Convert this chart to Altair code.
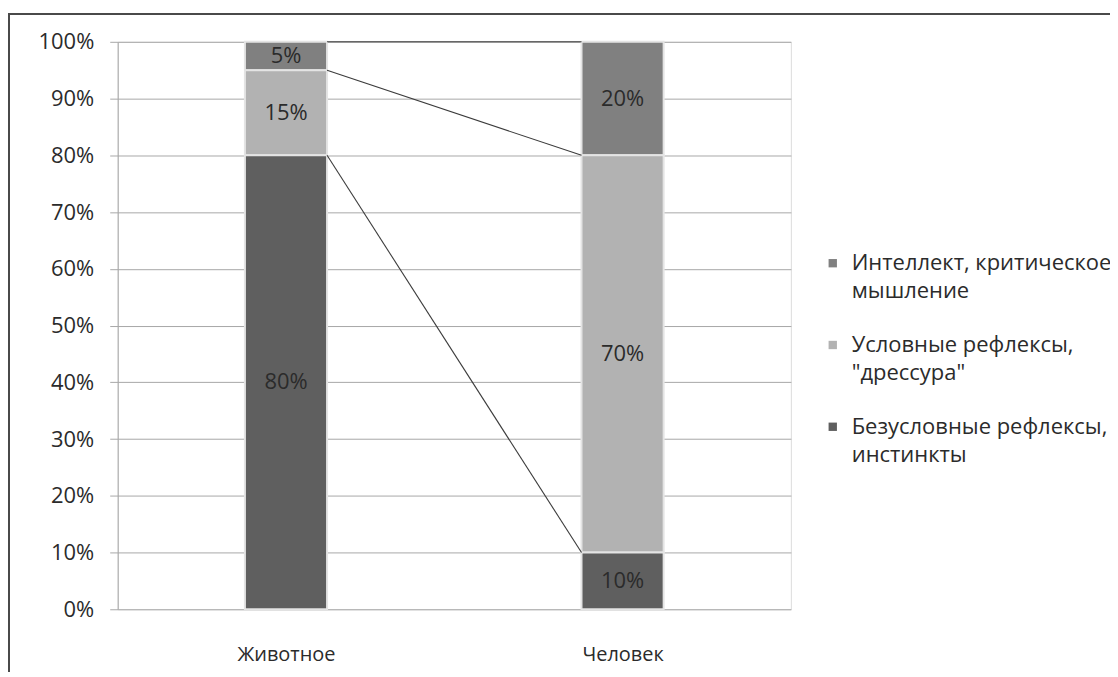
import altair as alt
import pandas as pd
import json

categories = ["Животное", "Человек"]
series = ["Интеллект, критическое мышление", "Условные рефлексы, \"дрессура\"", "Безусловные рефлексы, инстинкты"]
legend_lines = {
    series[0]: ["Интеллект, критическое", "мышление"],
    series[1]: ["Условные рефлексы,", "\"дрессура\""],
    series[2]: ["Безусловные рефлексы,", "инстинкты"],
}
intellect = [5, 20]
conditional = [15, 70]
unconditional = [80, 10]
y_ticks = [0, 10, 20, 30, 40, 50, 60, 70, 80, 90, 100]
colors = ["#808080", "#b2b2b2", "#5f5f5f"]

HW = 0.122  # bar half width in category units

rows = []
values_by_series = {series[0]: intellect, series[1]: conditional, series[2]: unconditional}
stack_order = {series[2]: 0, series[1]: 1, series[0]: 2}
for s in series:
    for i, c in enumerate(categories):
        rows.append({"cat": c, "pos": i, "series": s, "value": values_by_series[s][i], "ord": stack_order[s]})
df = pd.DataFrame(rows)

# series lines connecting segment tops
line_rows = []
for s in series:
    tops = []
    for i, c in enumerate(categories):
        top = sum(values_by_series[t][i] for t in series if stack_order[t] <= stack_order[s])
        tops.append(top)
    line_rows.append({"series": s, "x": 0 + HW, "y": tops[0]})
    line_rows.append({"series": s, "x": 1 - HW, "y": tops[1]})
ldf = pd.DataFrame(line_rows)

FONT = "Open Sans"
TXT = "#2b2b2b"
cat_js = json.dumps(categories, ensure_ascii=False)
leg_js = "{" + ",".join(
    json.dumps(k, ensure_ascii=False) + ":" + json.dumps(v, ensure_ascii=False) for k, v in legend_lines.items()
) + "}"

xscale = alt.Scale(domain=[-0.5, 1.5], nice=False, zero=False)
yscale = alt.Scale(domain=[0, 100], nice=False)

base = alt.Chart(df).transform_stack(
    stack="value", groupby=["cat"], sort=[alt.SortField("ord", order="ascending")], as_=["y0", "y1"]
).transform_calculate(
    x0=f"datum.pos - {HW}", x1=f"datum.pos + {HW}", mid="(datum.y0 + datum.y1) / 2",
    lab="datum.value + '%'"
)

bars = base.mark_rect(stroke="#e4e4e4", strokeWidth=2).encode(
    x=alt.X("x0:Q", scale=xscale, axis=alt.Axis(
        values=[0, 1], labelExpr=f"{cat_js}[datum.value]", grid=False, ticks=False, domain=False,
        title=None, labelFont=FONT, labelFontSize=20, labelColor=TXT, labelPadding=35)),
    x2="x1:Q",
    y=alt.Y("y0:Q", scale=yscale, axis=alt.Axis(
        values=y_ticks, labelExpr="datum.value + '%'", title=None, grid=True, gridColor="#a8a8a8",
        domainColor="#a8a8a8", tickColor="#a8a8a8", tickSize=8, labelFont=FONT, labelFontSize=22,
        labelColor=TXT, labelPadding=16)),
    y2="y1:Q",
    color=alt.Color("series:N", scale=alt.Scale(domain=series, range=colors), legend=alt.Legend(
        title=None, orient="none", legendX=706, legendY=211, symbolType="square", symbolSize=70,
        symbolStrokeWidth=0, labelFont=FONT, labelFontSize=22, labelColor=TXT,
        labelExpr=f"{leg_js}[datum.label]", labelLimit=400, labelOffset=8, rowPadding=32, padding=0)),
)

texts = base.mark_text(font=FONT, fontSize=22, color=TXT).encode(
    x=alt.X("pos:Q", scale=xscale), y=alt.Y("mid:Q", scale=yscale), text="lab:N"
)

lines = alt.Chart(ldf).mark_line(color="#3c3c3c", strokeWidth=1.1).encode(
    x=alt.X("x:Q", scale=xscale), y=alt.Y("y:Q", scale=yscale), detail="series:N"
)

frame = alt.Chart(pd.DataFrame({"a": [0]})).mark_rect(
    filled=False, stroke="#4a4a4a", strokeWidth=2
).encode(x=alt.value(-109), x2=alt.value(1200), y=alt.value(-28), y2=alt.value(900))

chart = alt.layer(frame, bars, lines, texts).properties(
    width=675, height=569,
    autosize=alt.AutoSizeParams(type="none"),
    padding={"left": 110, "top": 33, "right": 320, "bottom": 62},
).configure_view(stroke=None).configure(style={"guide-label": {"lineHeight": 28}})

chart.save("out.html", embed_options={"renderer": "svg", "actions": False})
